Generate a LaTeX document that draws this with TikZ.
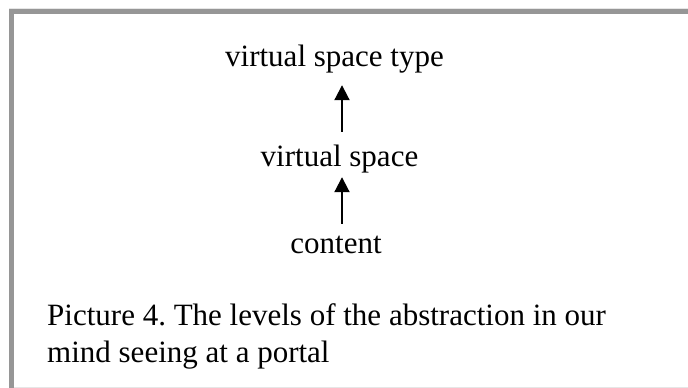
\documentclass[tikz,border=0pt]{standalone}
\usepackage{fontspec}
\setmainfont{Liberation Serif}
\usetikzlibrary{arrows.meta}
\frenchspacing
\definecolor{framegray}{HTML}{969696}
\definecolor{faintgray}{HTML}{E6E6E6}
\tikzset{
  lbl/.style={inner sep=0pt, text height=21pt, text depth=7pt, font=\fontsize{31}{37}\selectfont},
  arr/.style={line width=2pt, -{Triangle[length=15pt,width=15pt]}},
  framebar/.style={draw=framegray, line width=5pt},
  faint/.style={draw=faintgray, line width=1pt}
}
\begin{document}
\begin{tikzpicture}[x=1pt,y=-1pt]
\useasboundingbox (0,0) rectangle (688,388);
% frame
\draw[faint] (9,8) -- (688,8);
\draw[faint] (14,387.5) -- (688,387.5);
\draw[framebar] (9,11.5) -- (688,11.5);
\draw[framebar] (11.5,9) -- (11.5,388);
% labels
\node[lbl, anchor=base] (vst) at (334.5,66) {virtual space type};
\node[lbl, anchor=base] (vs) at (339.5,166) {virtual space};
\node[lbl, anchor=base] (ct) at (336,253) {content};
\coordinate (ax) at (342,0);
\draw[arr, shorten <=13pt, shorten >=12pt] (vs.north -| ax) -- (vst.south -| ax);
\draw[arr, shorten <=8pt, shorten >=4pt] (ct.north -| ax) -- (vs.south -| ax);
% caption
\node[lbl, anchor=base west] (cap1) at (47,325) {Picture 4. The levels of the abstraction in our};
\node[lbl, anchor=base west] (cap2) at (47,362.5) {mind seeing at a portal};
\end{tikzpicture}
\end{document}
